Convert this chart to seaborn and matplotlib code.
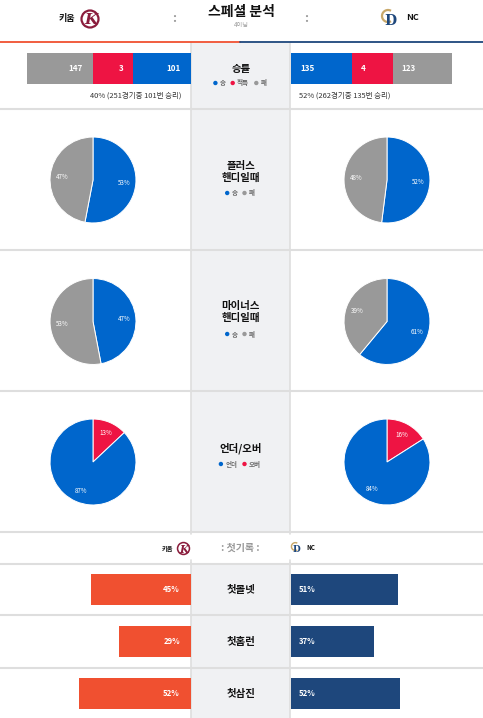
import numpy as np
import pandas as pd
import matplotlib
matplotlib.use("Agg")
import matplotlib.pyplot as plt
import seaborn as sns
from matplotlib.patches import Rectangle, Circle, Arc

sns.set_theme(style="white")
plt.rcParams["font.family"] = ["Noto Sans CJK KR", "DejaVu Sans"]

# ---------------- data ----------------
home_team = "키움"
away_team = "NC"
title = "스페셜 분석"
subtitle = "4이닝"

record_labels = ["승", "적특", "패"]
home_record = [101, 3, 147]
away_record = [135, 4, 123]
home_summary = "40% (251경기중 101번 승리)"
away_summary = "52% (262경기중 135번 승리)"

pie_titles = ["플러스\n핸디일때", "마이너스\n핸디일때", "언더/오버"]
pie_legend_labels = [["승", "패"], ["승", "패"], ["언더", "오버"]]
# values in drawing order (clockwise from 12 o'clock)
pie_draw_labels = [["승", "패"], ["승", "패"], ["오버", "언더"]]
home_pies = [[53, 47], [47, 53], [13, 87]]
away_pies = [[52, 48], [61, 39], [16, 84]]

first_header = ": 첫기록 :"
first_labels = ["첫볼넷", "첫홈런", "첫삼진"]
home_first = [45, 29, 52]
away_first = [51, 37, 52]

# ---------------- style ----------------
W, H = 483, 718
C_BLUE = "#0066cc"
C_RED = "#ee1443"
C_GRAY = "#999999"
C_ORANGE = "#f05030"
C_NAVY = "#1e477c"
C_COL = "#f0f1f3"
C_LINE = "#dedede"
C_KIWOOM = "#8a1c3c"
color_of = {"승": C_BLUE, "패": C_GRAY, "적특": C_RED, "언더": C_BLUE, "오버": C_RED}

fig = plt.figure(figsize=(W / 100, H / 100), dpi=100)
fig.patch.set_facecolor("white")
bg = fig.add_axes([0, 0, 1, 1])
bg.set_xlim(0, W)
bg.set_ylim(H, 0)
bg.axis("off")


def px_axes(x0, y0, x1, y1):
    ax = fig.add_axes([x0 / W, 1 - y1 / H, (x1 - x0) / W, (y1 - y0) / H])
    ax.set_facecolor("none")
    return ax


# center column
bg.add_patch(Rectangle((191, 43), 99, 489, fc=C_COL, ec="none", zorder=0))
bg.add_patch(Rectangle((191, 563), 99, 160, fc=C_COL, ec="none", zorder=0))
for x in (191, 290):
    bg.plot([x, x], [43, 532], color=C_LINE, lw=1.2, zorder=1)
    bg.plot([x, x], [563, 718], color=C_LINE, lw=1.2, zorder=1)
    bg.plot([x, x], [531, 534], color=C_LINE, lw=1.2, zorder=1)
    bg.plot([x, x], [560, 563], color=C_LINE, lw=1.2, zorder=1)

# separators
for y in (108.5, 250, 390.5, 531.5, 563.5, 615, 667.5):
    bg.plot([0, W], [y, y], color=C_LINE, lw=1.5, zorder=1)
bg.plot([0, 240], [41.5, 41.5], color=C_ORANGE, lw=1.3, zorder=2)
bg.plot([240, W], [41.5, 41.5], color=C_NAVY, lw=1.3, zorder=2)


# ---------------- logos ----------------
def kiwoom_logo(cx, cy, s):
    bg.add_patch(Circle((cx, cy), 8.5 * s, fc="white", ec=C_KIWOOM, lw=1.6 * s, zorder=3))
    bg.text(cx + 1 * s, cy + 1 * s, "K", color=C_KIWOOM, fontsize=11 * s, fontweight="bold",
            fontstyle="italic", family="DejaVu Serif", ha="center", va="center", zorder=4)


def nc_logo(cx, cy, s):
    bg.add_patch(Arc((cx - 1 * s, cy - 3 * s), 12 * s, 12 * s, theta1=60, theta2=300,
                     color="#c8a86a", lw=1.6 * s, zorder=3))
    bg.text(cx + 1 * s, cy + 2 * s, "D", color=C_NAVY, fontsize=10 * s, fontweight="bold",
            family="DejaVu Serif", ha="center", va="center", zorder=4)


# header
bg.text(75, 18, home_team, fontsize=6.5, fontweight="bold", ha="right", va="center", color="#111")
kiwoom_logo(90, 19, 1.0)
bg.text(174, 18, ":", fontsize=9, fontweight="bold", ha="center", va="center", color="#999")
bg.text(241, 12, title, fontsize=10, fontweight="bold", ha="center", va="center", color="#111")
bg.text(241, 25, subtitle, fontsize=4.5, ha="center", va="center", color="#999")
bg.text(306, 18, ":", fontsize=9, fontweight="bold", ha="center", va="center", color="#999")
nc_logo(389, 19, 1.0)
bg.text(406, 17, away_team, fontsize=6.5, fontweight="bold", ha="left", va="center", color="#111")


# ---------------- legend helper ----------------
def center_legend(y, labels, fs=4.7, cx=240.5):
    cw = 6.3
    widths = [4 + 3 + len(l) * cw for l in labels]
    gap = 4
    total = sum(widths) + gap * (len(labels) - 1)
    x = cx - total / 2
    for l, w in zip(labels, widths):
        bg.add_patch(Circle((x + 2, y), 2.2, fc=color_of[l], ec="none", zorder=3))
        bg.text(x + 6.5, y, l, fontsize=fs, fontweight="bold", ha="left", va="center",
                color="#666", zorder=3)
        x += w + gap


# ---------------- row 1: stacked record bars ----------------
BASIS = 40.0  # minimum segment width in px


def seg_widths(vals, total_px):
    rest = total_px - BASIS * len(vals)
    s = sum(vals)
    return [BASIS + rest * v / s for v in vals]


# home: 패, 적특, 승 (left to right)
home_order = [2, 1, 0]
axh = px_axes(27, 53, 191, 84)
vals = [home_record[i] for i in home_order]
ws = seg_widths(vals, 164)
left = 0
for i, v, w in zip(home_order, vals, ws):
    axh.barh(0, w, left=left, height=1, color=color_of[record_labels[i]], linewidth=0)
    axh.text(left + w - 10, 0, str(v), color="white", fontsize=5.8, fontweight="bold",
             ha="right", va="center")
    left += w
axh.set_xlim(0, 164)
axh.set_ylim(-0.5, 0.5)
axh.axis("off")

away_order = [0, 1, 2]
axa = px_axes(291, 53, 452, 84)
vals = [away_record[i] for i in away_order]
ws = seg_widths(vals, 161)
left = 0
for i, v, w in zip(away_order, vals, ws):
    axa.barh(0, w, left=left, height=1, color=color_of[record_labels[i]], linewidth=0)
    axa.text(left + 9, 0, str(v), color="white", fontsize=5.8, fontweight="bold",
             ha="left", va="center")
    left += w
axa.set_xlim(0, 161)
axa.set_ylim(-0.5, 0.5)
axa.axis("off")

bg.text(181, 96, home_summary, fontsize=5.4, ha="right", va="center", color="#333")
bg.text(299, 96, away_summary, fontsize=5.4, ha="left", va="center", color="#333")
bg.text(241, 69, "승률", fontsize=7.5, fontweight="bold", ha="center", va="center", color="#111")
center_legend(83, record_labels)


# ---------------- pies ----------------
def draw_pie(cx, cy, vals, labels, r=43):
    ax = px_axes(cx - r - 1, cy - r - 1, cx + r + 1, cy + r + 1)
    wedges, texts = ax.pie(vals, colors=[color_of[l] for l in labels], startangle=90,
                           counterclock=False, labels=[f"{v}%" for v in vals],
                           labeldistance=0.73,
                           wedgeprops=dict(edgecolor="white", linewidth=0.7),
                           textprops=dict(color="white", fontsize=4.5))
    for t in texts:
        t.set_ha("center")
        t.set_va("center")
    ax.set_xlim(-1.024, 1.024)
    ax.set_ylim(-1.024, 1.024)
    ax.set_aspect("equal")
    ax.axis("off")


pie_cy = [180, 321.5, 462]
title_y = [172, 312, 448]
legend_y = [193, 334, 464]
for k in range(3):
    draw_pie(93, pie_cy[k], home_pies[k], pie_draw_labels[k])
    draw_pie(387, pie_cy[k], away_pies[k], pie_draw_labels[k])
    bg.text(241, title_y[k], pie_titles[k], fontsize=7.5, fontweight="bold", ha="center",
            va="center", color="#111", linespacing=1.15)
    center_legend(legend_y[k], pie_legend_labels[k])

# ---------------- first records ----------------
bg.text(173, 548, home_team, fontsize=4.5, fontweight="bold", ha="right", va="center", color="#111")
kiwoom_logo(183.5, 548.5, 0.7)
bg.text(240, 548, first_header, fontsize=7.2, fontweight="bold", ha="center", va="center",
        color="#999")
nc_logo(296, 548.5, 0.65)
bg.text(306, 547.5, away_team, fontsize=4.5, fontweight="bold", ha="left", va="center", color="#111")

PX_PER_PCT = 1.73
HOME_PAD = 12.6  # minimum bar length in % units
AWAY_PAD = 11.0
df = pd.DataFrame({
    "label": first_labels,
    "home_len": [v + HOME_PAD for v in home_first],
    "away_len": [v + AWAY_PAD for v in away_first],
})

axl = px_axes(0, 563.5, 191, 719.5)
sns.barplot(data=df, y="label", x="home_len", orient="h", color=C_ORANGE, saturation=1,
            width=0.6, ax=axl, linewidth=0)
axl.set_xlim(191 / PX_PER_PCT, 0)
axl.set_ylim(2.5, -0.5)
for i, v in enumerate(home_first):
    axl.text(11 / PX_PER_PCT, i, f"{v}%", color="white", fontsize=5.6, fontweight="bold",
             ha="right", va="center")
axl.axis("off")

axr = px_axes(291, 563.5, W, 719.5)
sns.barplot(data=df, y="label", x="away_len", orient="h", color=C_NAVY, saturation=1,
            width=0.6, ax=axr, linewidth=0)
axr.set_xlim(0, 192 / PX_PER_PCT)
axr.set_ylim(2.5, -0.5)
for i, v in enumerate(away_first):
    axr.text(8 / PX_PER_PCT, i, f"{v}%", color="white", fontsize=5.6, fontweight="bold",
             ha="left", va="center")
axr.axis("off")

for i, lab in enumerate(first_labels):
    bg.text(241, 589.5 + 52 * i, lab, fontsize=7.5, fontweight="bold", ha="center",
            va="center", color="#111")

fig.savefig("out.png", dpi=100)
